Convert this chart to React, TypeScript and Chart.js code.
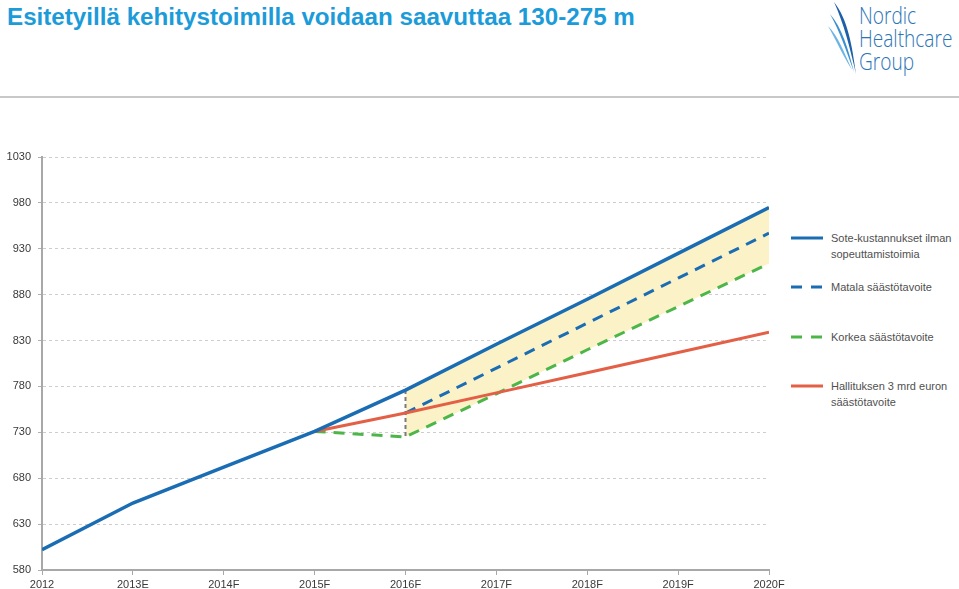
import React, { useEffect, useRef } from "react";
import { Chart, registerables } from "chart.js";

Chart.register(...registerables);

const categories = ["2012", "2013E", "2014F", "2015F", "2016F", "2017F", "2018F", "2019F", "2020F"];
const soteCosts = [602, 653, 692, 731, 776, 826, 875, 925, 975];
const matala = [null, null, null, null, 751, 800, 849, 898, 947];
const korkea = [null, null, null, 731, 725, 772, 820, 867, 914];
const hallitus = [null, null, null, 731, 751, 773, 795, 817, 839];
const yTicks = [580, 630, 680, 730, 780, 830, 880, 930, 980, 1030];

const legendItems = [
  { label: ["Sote-kustannukset ilman", "sopeuttamistoimia"], color: "#1b6db3", dash: false },
  { label: ["Matala säästötavoite"], color: "#1b6db3", dash: true },
  { label: ["Korkea säästötavoite"], color: "#4cb648", dash: true },
  { label: ["Hallituksen 3 mrd euron", "säästötavoite"], color: "#e35f45", dash: false },
];

const toPts = (arr: (number | null)[]) =>
  arr.map((v, i) => (v == null ? null : { x: i, y: v })).filter((p) => p !== null) as { x: number; y: number }[];

export default function App() {
  const ref = useRef<HTMLCanvasElement | null>(null);

  useEffect(() => {
    const fillStart = 4;
    const upper = soteCosts.map((v, i) => (i >= fillStart ? v : null));
    const lower = korkea.map((v, i) => (i >= fillStart ? v : null));
    const chart = new Chart(ref.current!, {
      type: "line",
      data: {
        datasets: [
          {
            label: "fillUpper",
            data: toPts(upper),
            borderWidth: 0,
            pointRadius: 0,
            backgroundColor: "#fcf2c8",
            fill: "+1",
            order: 10,
          },
          {
            label: "fillLower",
            data: toPts(lower),
            borderWidth: 0,
            pointRadius: 0,
            fill: false,
            order: 10,
          },
          {
            label: "divider",
            data: [
              { x: fillStart, y: soteCosts[fillStart] },
              { x: fillStart, y: korkea[fillStart] as number },
            ],
            borderColor: "#7a7a7a",
            borderWidth: 2,
            borderDash: [4, 3],
            pointRadius: 0,
            fill: false,
            order: 5,
          },
          {
            label: "Korkea säästötavoite",
            data: toPts(korkea),
            borderColor: "#4cb648",
            borderWidth: 3,
            borderDash: [11, 8],
            pointRadius: 0,
            fill: false,
            order: 4,
          },
          {
            label: "Matala säästötavoite",
            data: toPts(matala),
            borderColor: "#1b6db3",
            borderWidth: 3,
            borderDash: [11, 8],
            pointRadius: 0,
            fill: false,
            order: 3,
          },
          {
            label: "Hallituksen 3 mrd euron säästötavoite",
            data: toPts(hallitus),
            borderColor: "#e35f45",
            borderWidth: 3,
            pointRadius: 0,
            fill: false,
            order: 2,
          },
          {
            label: "Sote-kustannukset ilman sopeuttamistoimia",
            data: toPts(soteCosts),
            borderColor: "#1b6db3",
            borderWidth: 3.5,
            pointRadius: 0,
            fill: false,
            order: 1,
          },
        ],
      },
      options: {
        animation: false,
        responsive: false,
        maintainAspectRatio: false,
        layout: { padding: { top: 17, right: 21, left: 0, bottom: 0 } },
        plugins: {
          legend: { display: false },
          tooltip: { enabled: false },
          filler: { drawTime: "beforeDatasetsDraw" },
        },
        scales: {
          x: {
            type: "linear",
            min: 0,
            max: categories.length - 1,
            afterFit: (s: any) => {
              s.height = 19;
            },
            afterBuildTicks: (s: any) => {
              s.ticks = categories.map((_, i) => ({ value: i }));
            },
            ticks: {
              autoSkip: false,
              maxRotation: 0,
              padding: 3,
              color: "#3a3a3a",
              font: { family: "'Liberation Sans', Arial, sans-serif", size: 11 },
              callback: (v: any) => categories[v as number] ?? "",
            },
            grid: {
              drawOnChartArea: false,
              drawTicks: true,
              tickLength: 5,
              color: "#a8a8a8",
              lineWidth: 1,
            },
            border: { display: true, color: "#a8a8a8", width: 2 },
          },
          y: {
            type: "linear",
            min: yTicks[0],
            max: yTicks[yTicks.length - 1],
            afterFit: (s: any) => {
              s.width = 42;
            },
            afterBuildTicks: (s: any) => {
              s.ticks = yTicks.map((v) => ({ value: v }));
            },
            ticks: {
              padding: 7,
              color: "#3a3a3a",
              font: { family: "'Liberation Sans', Arial, sans-serif", size: 11 },
              callback: (v: any) => String(v),
            },
            grid: {
              drawOnChartArea: true,
              drawTicks: true,
              tickLength: 4,
              color: "#cdcdcd",
              tickBorderDash: [],
              tickColor: "#b0b0b0",
              lineWidth: 1,
            },
            border: { display: true, color: "#a8a8a8", width: 2, dash: [3, 3] },
          },
        },
      } as any,
    });
    return () => chart.destroy();
  }, []);

  const legendTop = [238, 287, 337, 386];

  return (
    <div
      style={{
        position: "absolute",
        left: 0,
        top: 0,
        width: 959,
        height: 589,
        background: "#fff",
        overflow: "hidden",
        fontFamily: "'Liberation Sans', Arial, sans-serif",
      }}
    >
      <div
        style={{
          position: "absolute",
          left: 7,
          top: 3,
          fontSize: 24.2,
          fontWeight: "bold",
          color: "#1c9bd9",
          whiteSpace: "nowrap",
        }}
      >
        Esitetyillä kehitystoimilla voidaan saavuttaa 130-275 m
      </div>

      <svg style={{ position: "absolute", left: 826, top: 0 }} width={36} height={80}>
        <path d="M8 2 C 22 20, 26 45, 30 74 C 24 48, 18 24, 8 2 Z" fill="#1d5fa8" />
        <path d="M4 14 C 16 28, 22 48, 28 72 C 20 50, 14 32, 4 14 Z" fill="#3a8fd0" />
        <path d="M2 26 C 12 36, 18 52, 26 70 C 16 54, 10 40, 2 26 Z" fill="#6cb4e4" />
      </svg>
      <div
        style={{
          position: "absolute",
          left: 859,
          top: 4,
          fontSize: 23,
          lineHeight: "23px",
          color: "#2b74b6",
          fontFamily: "'Open Sans', sans-serif",
          fontWeight: 300,
          transform: "scaleX(0.83)",
          transformOrigin: "left top",
          whiteSpace: "nowrap",
        }}
      >
        <div>Nordic</div>
        <div>Healthcare</div>
        <div>Group</div>
      </div>

      <div style={{ position: "absolute", left: 0, top: 96, width: 959, height: 2, background: "#c8c8c8" }} />

      <div style={{ position: "absolute", left: 0, top: 140, width: 790, height: 449 }}>
        <canvas ref={ref} width={790} height={449} style={{ width: 790, height: 449 }} />
      </div>

      {legendItems.map((it, k) => (
        <div key={k} style={{ position: "absolute", left: 790, top: legendTop[k] - 8, width: 169 }}>
          <svg style={{ position: "absolute", left: 0, top: 6 }} width={34} height={4}>
            <line
              x1={1}
              y1={2}
              x2={33}
              y2={2}
              stroke={it.color}
              strokeWidth={3}
              strokeDasharray={it.dash ? "11 9" : undefined}
            />
          </svg>
          <div
            style={{
              position: "absolute",
              left: 41,
              top: 0,
              fontSize: 11,
              lineHeight: "16px",
              color: "#505050",
              whiteSpace: "nowrap",
            }}
          >
            {it.label.map((l, j) => (
              <div key={j}>{l}</div>
            ))}
          </div>
        </div>
      ))}
    </div>
  );
}
